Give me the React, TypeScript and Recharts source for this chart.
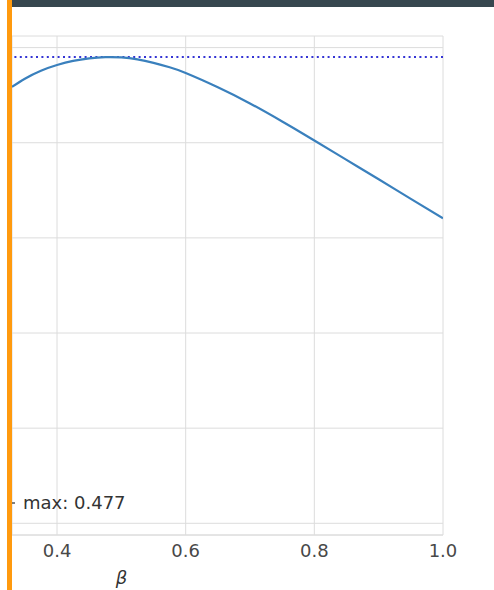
import {
  LineChart, Line, CartesianGrid, XAxis, YAxis, ReferenceLine, Label,
} from 'recharts'

// β values and the score curve
const betas = [0.33, 0.35, 0.375, 0.4, 0.425, 0.45, 0.475, 0.5, 0.525, 0.55, 0.575, 0.6, 0.65, 0.7, 0.75, 0.8, 0.85, 0.9, 0.95, 1.0]
const scores = [0.4676, 0.4702, 0.4727, 0.4745, 0.4758, 0.4766, 0.477, 0.4769, 0.4763, 0.4752, 0.4738, 0.472, 0.4675, 0.4624, 0.4567, 0.4507, 0.4446, 0.4385, 0.4323, 0.4262]

const xTicks = [0.4, 0.6, 0.8, 1.0]
const yTicks = [0.33, 0.36, 0.39, 0.42, 0.45, 0.48]

const data = betas.map((b, i) => ({ beta: b, score: scores[i] }))
const maxScore = Math.max(...scores)

const W = 494
const H = 590
const FONT = '"DejaVu Sans", sans-serif'

// legend entry for the dotted max line (its box sits left of the visible area)
function MaxLegend() {
  return (
    <div
      style={{
        position: 'absolute', left: 10, top: 492, display: 'flex', alignItems: 'center',
        fontFamily: FONT, fontSize: 18, color: '#333',
      }}
    >
      <svg width={5} height={10} style={{ marginRight: 8 }}>
        <line x1={0} y1={5} x2={5} y2={5} stroke="#555" strokeWidth={1.5} />
      </svg>
      <span>max: {maxScore.toFixed(3)}</span>
    </div>
  )
}

export default function App() {
  return (
    <div style={{ position: 'absolute', left: 0, top: 0, width: W, height: H, background: '#fff', overflow: 'hidden' }}>
      <LineChart width={W} height={H} data={data} margin={{ top: 36, right: 51, left: 12, bottom: 0 }}>
        <CartesianGrid stroke="#dcdcdc" strokeWidth={1} />
        <XAxis
          dataKey="beta"
          type="number"
          domain={[0.33, 1.0]}
          ticks={xTicks}
          allowDataOverflow
          tickFormatter={(v: number) => v.toFixed(1)}
          tickLine={false}
          tickMargin={3}
          height={55}
          stroke="#dcdcdc"
          tick={{ fill: '#484848', fontSize: 18, fontFamily: FONT }}
        >
          <Label
            value="β"
            position="insideBottom"
            dx={-106}
            offset={6}
            style={{ fill: '#333', fontSize: 18, fontStyle: 'italic', fontFamily: FONT }}
          />
        </XAxis>
        <XAxis
          xAxisId="top"
          orientation="top"
          dataKey="beta"
          type="number"
          domain={[0.33, 1.0]}
          height={0}
          tickLine={false}
          tickFormatter={() => ''}
          stroke="#dcdcdc"
        />
        <YAxis
          type="number"
          domain={[0.32631, 0.48366]}
          ticks={yTicks}
          allowDataOverflow
          orientation="right"
          width={0}
          tickLine={false}
          tickFormatter={() => ''}
          stroke="#dcdcdc"
        />
        <ReferenceLine y={maxScore} stroke="#3434d4" strokeWidth={2} strokeDasharray="2 3.4" />
        <Line
          type="natural"
          dataKey="score"
          stroke="#3a80bd"
          strokeWidth={2.2}
          dot={false}
          isAnimationActive={false}
        />
      </LineChart>
      <MaxLegend />
      <div style={{ position: 'absolute', left: 12, top: 0, width: W - 12, height: 7, background: '#37474f' }} />
      <div style={{ position: 'absolute', left: 7, top: 0, width: 5, height: H, background: '#ff9a0e' }} />
    </div>
  )
}
